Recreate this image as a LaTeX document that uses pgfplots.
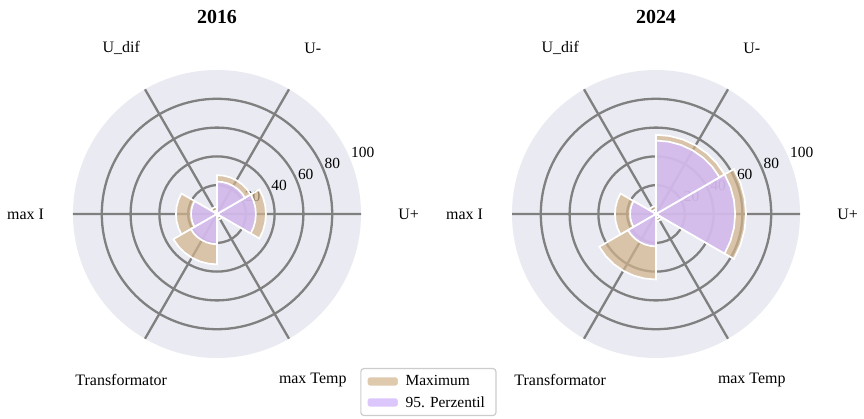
\documentclass[border=0pt]{standalone}
\usepackage{fontspec}
\setmainfont{Liberation Serif}
\usepackage{pgfplots}
\pgfplotsset{compat=1.18}
\usepgfplotslibrary{polar}
\definecolor{diskbg}{RGB}{234,234,242}
\definecolor{gridc}{RGB}{128,128,128}
\definecolor{tanc}{RGB}{210,180,140}
\definecolor{purc}{RGB}{211,186,252}
\definecolor{legdraw}{RGB}{204,204,204}
\tikzset{
  maxbar/.style={fill=tanc, fill opacity=0.7, draw=white, line width=1.7bp},
  pbar/.style={fill=purc, fill opacity=0.8, draw=white, line width=1.7bp},
}
% #1 centre angle, #2 value, #3 style
\newcommand{\polbar}[3]{%
  \pgfmathsetmacro{\aa}{#1-30}\pgfmathsetmacro{\ab}{#1-20}\pgfmathsetmacro{\ac}{#1-10}%
  \pgfmathsetmacro{\ad}{#1+10}\pgfmathsetmacro{\ae}{#1+20}\pgfmathsetmacro{\af}{#1+30}%
  \addplot[#3, forget plot] coordinates {(0,0) (\aa,#2) (\ab,#2) (\ac,#2) (#1,#2) (\ad,#2) (\ae,#2) (\af,#2) (0,0)} -- cycle;%
}
\newcommand{\catlabels}{%
  \node[font=\fontsize{16}{18}\selectfont] at (axis cs:0,133) {U+};
  \node[font=\fontsize{16}{18}\selectfont] at (axis cs:60,133) {U-};
  \node[font=\fontsize{16}{18}\selectfont] at (axis cs:120,133) {U\_dif};
  \node[font=\fontsize{16}{18}\selectfont] at (axis cs:180,133) {max I};
  \node[font=\fontsize{16}{18}\selectfont] at (axis cs:240,133) {Transformator};
  \node[font=\fontsize{16}{18}\selectfont] at (axis cs:300,133) {max Temp};
  \node[font=\fontsize{15.5}{18}\selectfont, anchor=south west, inner sep=1bp] at (axis cs:22.5,20) {20};
  \node[font=\fontsize{15.5}{18}\selectfont, anchor=south west, inner sep=1bp] at (axis cs:22.5,40) {40};
  \node[font=\fontsize{15.5}{18}\selectfont, anchor=south west, inner sep=1bp] at (axis cs:22.5,60) {60};
  \node[font=\fontsize{15.5}{18}\selectfont, anchor=south west, inner sep=1bp] at (axis cs:22.5,80) {80};
  \node[font=\fontsize{15.5}{18}\selectfont, anchor=south west, inner sep=1bp] at (axis cs:22.5,100) {100};
}
\pgfplotsset{
  mypolar/.style={
    anchor=center,
    width=288bp, height=288bp, scale only axis,
    xmin=0, xmax=360, ymin=0, ymax=100,
    xtick={0,60,...,300}, ytick={20,40,60,80},
    xticklabels={}, yticklabels={},
    grid=major, major grid style={gridc, line width=2.3bp},
    axis line style={draw=none},
    tick style={draw=none},
    axis background/.style={fill=diskbg},
    clip=false,
  }
}
\begin{document}
\begin{tikzpicture}
\path[use as bounding box] (0,0) rectangle (864bp,419bp);
\node[font=\fontsize{20}{24}\selectfont\bfseries] at (217bp,402bp) {2016};
\node[font=\fontsize{20}{24}\selectfont\bfseries] at (656bp,402bp) {2024};
\begin{polaraxis}[mypolar, at={(217bp,205bp)},
  legend style={at={(axis description cs:1.234,-0.0347)}, anchor=north,
    draw=legdraw, rounded corners=3bp, fill=white, line width=1.2bp,
    font=\fontsize{15.5}{17}\selectfont, row sep=7bp,
    inner xsep=5bp, inner ysep=6bp, nodes={inner xsep=6bp, inner ysep=1bp}},
  legend image code/.code={\draw[#1] (0bp,-5bp) rectangle (32bp,5bp);},
  legend cell align=left,
]
\catlabels
% 2016: Maximum
\polbar{0}{34}{maxbar}
\polbar{60}{27}{maxbar}
\polbar{120}{5}{maxbar}
\polbar{180}{28.5}{maxbar}
\polbar{240}{35}{maxbar}
\polbar{300}{4}{maxbar}
% 2016: 95. Perzentil
\polbar{0}{27}{pbar}
\polbar{60}{22.5}{pbar}
\polbar{120}{2.5}{pbar}
\polbar{180}{18}{pbar}
\polbar{240}{21}{pbar}
\polbar{300}{2}{pbar}
\addlegendimage{maxbar}\addlegendentry{Maximum}
\addlegendimage{pbar}\addlegendentry{95. Perzentil}
\end{polaraxis}
\begin{polaraxis}[mypolar, at={(656bp,205bp)}]
\catlabels
% 2024: Maximum
\polbar{0}{62.5}{maxbar}
\polbar{60}{55}{maxbar}
\polbar{120}{5.5}{maxbar}
\polbar{180}{28.5}{maxbar}
\polbar{240}{45.5}{maxbar}
\polbar{300}{5}{maxbar}
% 2024: 95. Perzentil
\polbar{0}{55}{pbar}
\polbar{60}{51}{pbar}
\polbar{120}{3}{pbar}
\polbar{180}{18}{pbar}
\polbar{240}{22.5}{pbar}
\polbar{300}{3}{pbar}
\end{polaraxis}
\end{tikzpicture}
\end{document}
